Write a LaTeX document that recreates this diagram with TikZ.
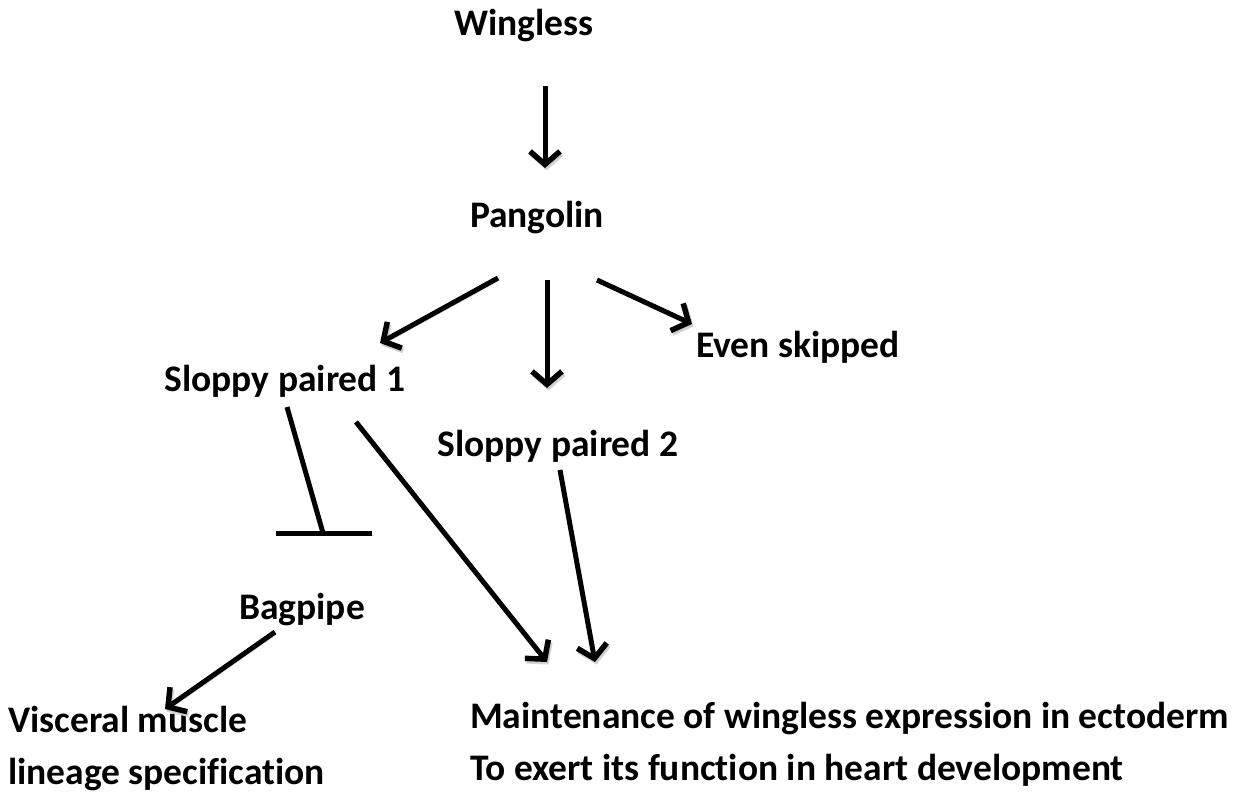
\documentclass[tikz,border=0pt]{standalone}
\usepackage{fontspec}
\setmainfont{Carlito}[Ligatures=NoCommon]
\usetikzlibrary{arrows.meta}
\begin{document}
\begin{tikzpicture}[x=1pt,y=-1pt,
  lbl/.style={font=\bfseries\fontsize{37.5}{52}\selectfont, inner sep=0pt},
  shade/.style={preaction={draw=black!18, transform canvas={shift={(1.5pt,-2.5pt)}}}},
  conn/.style={line width=5pt, shade, -{Straight Barb[length=13pt,width=30pt,line width=5.5pt]}},
  inhib/.style={line width=5pt, shade}]
\useasboundingbox (0,0) rectangle (1237,793);
% labels
\node[lbl] (wg) at (524,26) {Wingless};
\node[lbl] (pg) at (537,218) {Pangolin};
\node[lbl] (sp1) at (285,381) {Sloppy paired 1};
\node[lbl] (eve) at (798,347) {Even skipped};
\node[lbl] (sp2) at (558,446) {Sloppy paired 2};
\node[lbl] (bap) at (302,610) {Bagpipe};
\node[lbl, align=left, anchor=west] (main) at (470,744) {Maintenance of wingless expression in ectoderm\\To exert its function in heart development};
\node[lbl, align=left, anchor=west] (visc) at (8,749) {Visceral muscle\\lineage specification};
% connector end points
\coordinate (wgS) at (545,86);
\coordinate (pgN) at (545,168);
\coordinate (pgL) at (498,278);
\coordinate (sp1N) at (380,343);
\coordinate (pgM) at (547,280);
\coordinate (sp2N) at (547,388);
\coordinate (pgR) at (597,280);
\coordinate (eveW) at (692,324);
\coordinate (sp1A) at (287,407);
\coordinate (bapN) at (323,533);
\coordinate (barL) at (276,533);
\coordinate (barR) at (372,533);
\coordinate (sp1B) at (356,422);
\coordinate (mainA) at (547,662);
\coordinate (sp2S) at (560,470);
\coordinate (mainB) at (595,662);
\coordinate (bapS) at (275,632);
\coordinate (viscN) at (165,709);
% connectors
\draw[conn] (wgS) -- (pgN);
\draw[conn] (pgL) -- (sp1N);
\draw[conn] (pgM) -- (sp2N);
\draw[conn] (pgR) -- (eveW);
\draw[inhib] (sp1A) -- (bapN);
\draw[inhib] (barL) -- (barR);
\draw[conn] (sp1B) -- (mainA);
\draw[conn] (sp2S) -- (mainB);
\draw[conn] (bapS) -- (viscN);
\end{tikzpicture}
\end{document}
